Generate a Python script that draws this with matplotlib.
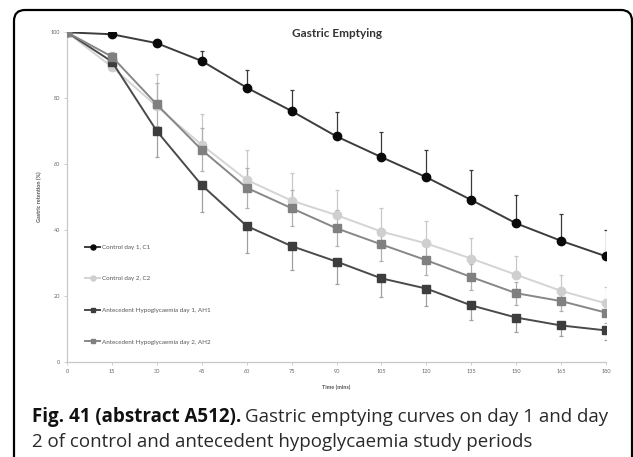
import matplotlib
matplotlib.use('Agg')
import matplotlib.pyplot as plt
from matplotlib.patches import FancyBboxPatch
from matplotlib.transforms import Affine2D
import numpy as np

# data
time_mins = [0, 15, 30, 45, 60, 75, 90, 105, 120, 135, 150, 165, 180]

c1 = [100, 99.4, 96.7, 91.3, 83.2, 76.1, 68.4, 62.1, 56.0, 49.1, 42.0, 36.7, 32.0]
c1_err = [0, 0.6, 1.0, 3.1, 5.4, 6.4, 7.4, 7.7, 8.3, 9.0, 8.7, 8.2, 8.0]

c2 = [100, 89.5, 77.5, 65.8, 55.2, 48.9, 44.5, 39.5, 35.9, 31.3, 26.4, 21.5, 17.7]
c2_err = [0, 1.5, 9.8, 9.3, 9.1, 8.4, 7.6, 7.1, 6.9, 6.2, 5.7, 4.8, 4.9]

ah1 = [100, 91.1, 70.0, 53.6, 41.2, 35.1, 30.4, 25.3, 22.2, 17.1, 13.4, 11.0, 9.5]
ah1_err = [0, 1.5, 7.8, 8.1, 8.1, 7.3, 6.9, 5.6, 5.3, 4.4, 4.3, 3.2, 2.9]

ah2 = [100, 92.6, 78.1, 64.3, 52.8, 46.6, 40.5, 35.6, 30.8, 25.7, 20.8, 18.4, 14.9]
ah2_err = [0, 1.5, 6.5, 6.5, 6.0, 5.5, 5.5, 5.0, 4.5, 4.0, 3.5, 3.0, 3.0]

labels = ['Control day 1, C1', 'Control day 2, C2',
          'Antecedent Hypoglycaemia day 1, AH1',
          'Antecedent Hypoglycaemia day 2, AH2']

plt.rcParams['font.family'] = ['Lato', 'DejaVu Sans']

W, H = 633, 457
fig = plt.figure(figsize=(W / 100, H / 100), dpi=100)
# pixel coords measured from the top-left corner
pix = Affine2D().scale(1, -1).translate(0, H).scale(1 / 100) + fig.dpi_scale_trans

# rounded frame (runs off the bottom of the image)
frame = FancyBboxPatch((14, 10), 618, H + 40,
                       boxstyle='round,pad=0,rounding_size=11',
                       transform=pix, fill=False, ec='black', lw=1.6)
fig.add_artist(frame)

ax = fig.add_axes([67 / W, 95.3 / H, 539 / W, 329.4 / H])

err_kw = dict(elinewidth=0.9, capsize=1.6, capthick=0.9)

# C1: upward error bars only
ax.errorbar(time_mins, c1, yerr=[np.zeros(len(c1)), c1_err], fmt='none',
            ecolor='#3a3a3a', zorder=2, **err_kw)
# C2: upward only
ax.errorbar(time_mins, c2, yerr=[np.zeros(len(c2)), c2_err], fmt='none',
            ecolor='#c8c8c8', zorder=2, **err_kw)
# AH1: downward only
ax.errorbar(time_mins, ah1, yerr=[ah1_err, np.zeros(len(ah1))], fmt='none',
            ecolor='#a0a0a0', zorder=2, **err_kw)
# AH2: both ways
ax.errorbar(time_mins, ah2, yerr=ah2_err, fmt='none',
            ecolor='#b0b0b0', zorder=2, **err_kw)

ax.plot(time_mins, c1, '-o', color='#3c3c3c', mfc='#0a0a0a', mec='#0a0a0a',
        lw=1.4, ms=6, label=labels[0], zorder=3)
ax.plot(time_mins, c2, '-o', color='#d4d4d4', mfc='#cfcfcf', mec='#cfcfcf',
        lw=1.4, ms=6, label=labels[1], zorder=3)
ax.plot(time_mins, ah1, '-s', color='#4a4a4a', mfc='#3d3d3d', mec='#3d3d3d',
        lw=1.4, ms=6, label=labels[2], zorder=4)
ax.plot(time_mins, ah2, '-s', color='#878787', mfc='#808080', mec='#808080',
        lw=1.4, ms=6, label=labels[3], zorder=4)

ax.set_xlim(0, 180)
ax.set_ylim(0, 100)
ax.set_xticks(time_mins)
ax.set_yticks([0, 20, 40, 60, 80, 100])

for s in ['top', 'right']:
    ax.spines[s].set_visible(False)
for s in ['left', 'bottom']:
    ax.spines[s].set_color('#c8c8c8')
    ax.spines[s].set_linewidth(0.9)

ax.tick_params(axis='both', length=2, width=0.6, color='#c8c8c8',
               labelsize=4, labelcolor='#666666', pad=3)

ax.set_xlabel('Time (mins)', fontsize=4, color='#555555', fontweight='bold',
              labelpad=8)
ax.set_ylabel('Gastric retention (%)', fontsize=4, color='#555555',
              fontweight='bold', labelpad=6)

ax.set_title('Gastric Emptying', fontsize=8.5, fontweight='bold',
             color='#333333', pad=-2, y=1.0)
ax.title.set_position((0.5, 0.995))

leg = ax.legend(loc='center left', bbox_to_anchor=(0.0334, 0.204),
                frameon=False, fontsize=4.5, labelspacing=4.2,
                handlelength=2.4, handletextpad=0.3, borderpad=0,
                borderaxespad=0, markerscale=0.6)
for t in leg.get_texts():
    t.set_color('#555555')

# caption: bold lead-in followed by normal text
fig.canvas.draw()
r = fig.canvas.get_renderer()
cap_kw = dict(fontsize=13.5, va='baseline', family=['Open Sans', 'DejaVu Sans'])
t1 = fig.text(32, 422, 'Fig. 41 (abstract A512).', transform=pix,
              fontweight='bold', color='#111111', **cap_kw)
bb = t1.get_window_extent(renderer=r)
fig.text(bb.x1 + 4, 422, 'Gastric emptying curves on day 1 and day',
         transform=pix, color='#2a2a2a', **cap_kw)
fig.text(32, 447, '2 of control and antecedent hypoglycaemia study periods',
         transform=pix, color='#2a2a2a', **cap_kw)

fig.savefig('out.png', dpi=100)
